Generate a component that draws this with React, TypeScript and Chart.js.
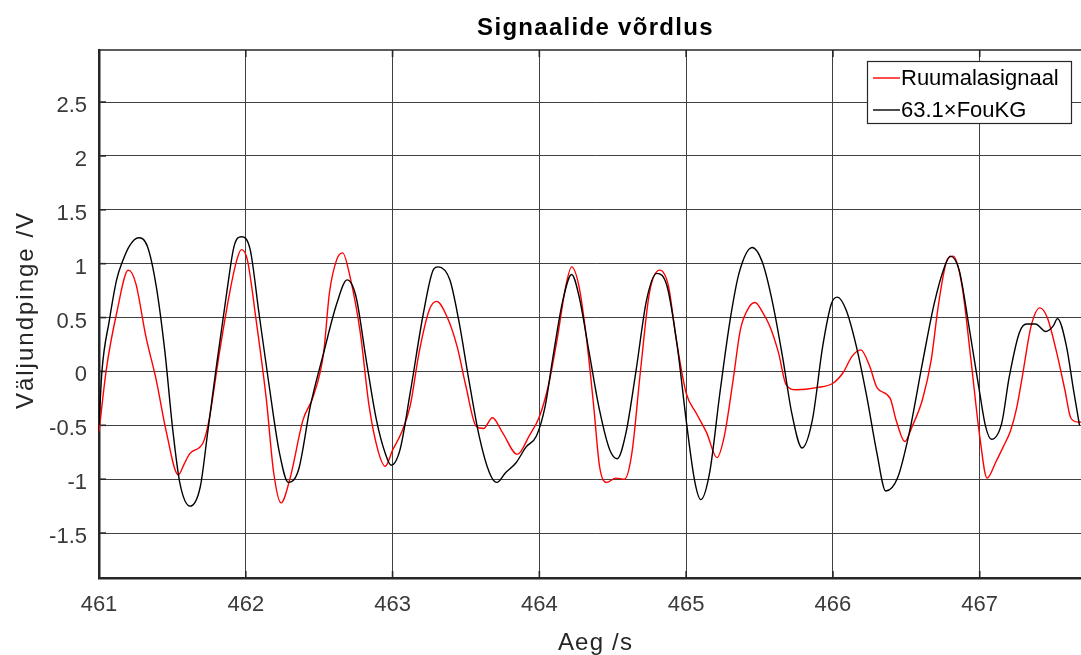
import { useEffect, useRef } from "react";
import { Chart, registerables } from "chart.js";

Chart.register(...registerables);

const TITLE = "Signaalide võrdlus";
const X_LABEL = "Aeg /s";
const Y_LABEL = "Väljundpinge /V";

const X_TICKS = [461, 462, 463, 464, 465, 466, 467];
const Y_TICKS = [-1.5, -1, -0.5, 0, 0.5, 1, 1.5, 2, 2.5];
const X_MIN = 461;
const X_MAX = 467.765;
const Y_MIN = -1.917;
const Y_MAX = 2.983;

const RED_LABEL = "Ruumalasignaal";
const BLACK_LABEL = "63.1×FouKG";

const redT = [
  461.0, 461.05, 461.12, 461.2, 461.25, 461.32, 461.39, 461.46, 461.54, 461.58,
  461.62, 461.71, 461.75, 461.82, 461.89, 461.94, 461.97, 462.01, 462.07, 462.14,
  462.19, 462.24, 462.3, 462.39, 462.46, 462.53, 462.57, 462.62, 462.66, 462.71,
  462.78, 462.84, 462.9, 462.95, 463.0, 463.06, 463.12, 463.18, 463.25, 463.3,
  463.37, 463.44, 463.5, 463.57, 463.62, 463.68, 463.75, 463.85, 463.93, 464.0,
  464.06, 464.12, 464.18, 464.22, 464.27, 464.32, 464.37, 464.41, 464.46, 464.52,
  464.58, 464.63, 464.69, 464.75, 464.82, 464.88, 464.93, 465.0, 465.07, 465.14,
  465.21, 465.26, 465.32, 465.37, 465.43, 465.47, 465.52, 465.57, 465.63, 465.68,
  465.75, 465.89, 466.0, 466.07, 466.13, 466.19, 466.25, 466.3, 466.39, 466.43,
  466.49, 466.54, 466.61, 466.67, 466.72, 466.78, 466.82, 466.88, 466.94, 467.0,
  467.05, 467.11, 467.16, 467.21, 467.25, 467.29, 467.35, 467.41, 467.46, 467.52,
  467.58, 467.62, 467.67, 467.7,
];
const redV = [
  -0.56, 0.02, 0.54, 0.94, 0.82, 0.32, -0.08, -0.57, -0.96, -0.86,
  -0.76, -0.66, -0.45, 0.17, 0.73, 1.04, 1.13, 1.04, 0.48, -0.26,
  -0.94, -1.22, -1.0, -0.45, -0.23, 0.17, 0.73, 1.04, 1.1, 0.88,
  0.36, -0.32, -0.73, -0.88, -0.73, -0.57, -0.32, 0.17, 0.57, 0.65,
  0.51, 0.23, -0.14, -0.51, -0.53, -0.43, -0.57, -0.77, -0.6, -0.42,
  -0.14, 0.29, 0.79, 0.97, 0.79, 0.32, -0.32, -0.88, -1.03, -0.99,
  -1.0, -0.76, 0.02, 0.73, 0.94, 0.79, 0.32, -0.2, -0.39, -0.57,
  -0.8, -0.6, -0.08, 0.39, 0.6, 0.64, 0.55, 0.42, 0.17, -0.12,
  -0.17, -0.15, -0.11, -0.01, 0.14, 0.2, 0.05, -0.15, -0.25, -0.45,
  -0.65, -0.51, -0.26, 0.11, 0.63, 1.04, 1.07, 0.79, 0.11, -0.6,
  -0.99, -0.84, -0.7, -0.55, -0.35, -0.05, 0.42, 0.59, 0.5, 0.2,
  -0.17, -0.43, -0.47, -0.47,
];

const blackT = [
  461.0, 461.02, 461.07, 461.12, 461.16, 461.21, 461.27, 461.33, 461.39, 461.45,
  461.5, 461.55, 461.62, 461.69, 461.74, 461.8, 461.87, 461.92, 461.97, 462.03,
  462.09, 462.16, 462.23, 462.29, 462.36, 462.44, 462.53, 462.62, 462.69, 462.75,
  462.82, 462.89, 462.95, 462.99, 463.05, 463.12, 463.21, 463.28, 463.31, 463.39,
  463.45, 463.52, 463.59, 463.66, 463.71, 463.77, 463.84, 463.91, 463.98, 464.04,
  464.09, 464.16, 464.22, 464.27, 464.34, 464.41, 464.48, 464.53, 464.59, 464.66,
  464.73, 464.8, 464.87, 464.94, 465.0, 465.06, 465.1, 465.16, 465.23, 465.3,
  465.36, 465.45, 465.52, 465.59, 465.66, 465.72, 465.79, 465.86, 465.93, 465.99,
  466.03, 466.09, 466.16, 466.23, 466.3, 466.36, 466.44, 466.52, 466.61, 466.69,
  466.76, 466.8, 466.86, 466.93, 467.0, 467.04, 467.08, 467.15, 467.2, 467.27,
  467.32, 467.38, 467.45, 467.5, 467.53, 467.59, 467.64, 467.68,
];
const blackV = [
  -0.5, 0.0, 0.47, 0.85, 1.02, 1.17, 1.24, 1.16, 0.79, 0.17,
  -0.51, -1.03, -1.25, -1.07, -0.57, 0.05, 0.73, 1.16, 1.25, 1.13,
  0.54, -0.14, -0.76, -1.03, -0.91, -0.32, 0.17, 0.63, 0.85, 0.7,
  0.11, -0.45, -0.76, -0.87, -0.73, -0.2, 0.54, 0.95, 0.97, 0.85,
  0.48, -0.08, -0.6, -0.94, -1.03, -0.94, -0.85, -0.7, -0.6, -0.32,
  0.11, 0.66, 0.9, 0.7, 0.17, -0.36, -0.73, -0.81, -0.57, 0.02,
  0.66, 0.91, 0.79, 0.23, -0.45, -1.03, -1.19, -0.94, -0.2, 0.48,
  0.91, 1.15, 1.01, 0.63, 0.11, -0.39, -0.71, -0.45, 0.23, 0.63,
  0.69, 0.57, 0.23, -0.23, -0.76, -1.11, -0.99, -0.57, 0.08, 0.63,
  0.97, 1.07, 0.94, 0.39, -0.2, -0.51, -0.63, -0.48, -0.06, 0.36,
  0.44, 0.44, 0.37, 0.42, 0.49, 0.24, -0.18, -0.5,
];

const FONT = "'Liberation Sans', Arial, Helvetica, sans-serif";
const AXIS_COLOR = "#262626";

const decorPlugin = {
  id: "matlabDecor",
  beforeDatasetsDraw(chart: any) {
    const { ctx, chartArea } = chart;
    const xs = chart.scales.x;
    const ys = chart.scales.y;
    ctx.save();
    ctx.strokeStyle = AXIS_COLOR;
    ctx.lineWidth = 1.6;
    ctx.beginPath();
    ctx.moveTo(chartArea.left, chartArea.top);
    ctx.lineTo(chartArea.right, chartArea.top);
    ctx.stroke();
    ctx.lineWidth = 1.6;
    const tl = 7;
    X_TICKS.forEach((v) => {
      const px = xs.getPixelForValue(v);
      ctx.beginPath();
      ctx.moveTo(px, chartArea.bottom);
      ctx.lineTo(px, chartArea.bottom - tl);
      ctx.moveTo(px, chartArea.top);
      ctx.lineTo(px, chartArea.top + tl);
      ctx.stroke();
    });
    Y_TICKS.forEach((v) => {
      const py = ys.getPixelForValue(v);
      ctx.beginPath();
      ctx.moveTo(chartArea.left, py);
      ctx.lineTo(chartArea.left + tl, py);
      ctx.stroke();
    });
    ctx.restore();
  },
  afterDraw(chart: any) {
    const { ctx, chartArea } = chart;
    const cx = (chartArea.left + chartArea.right) / 2;
    ctx.save();
    // title
    ctx.fillStyle = "#000000";
    ctx.textAlign = "center";
    ctx.textBaseline = "alphabetic";
    ctx.font = `bold 24px ${FONT}`;
    (ctx as any).letterSpacing = "1.3px";
    ctx.fillText(TITLE, cx, 35);
    // x label
    ctx.fillStyle = AXIS_COLOR;
    ctx.font = `24px ${FONT}`;
    (ctx as any).letterSpacing = "1.2px";
    ctx.fillText(X_LABEL, cx, 650);
    // y label
    ctx.save();
    ctx.translate(33, (chartArea.top + chartArea.bottom) / 2 - 4);
    ctx.rotate(-Math.PI / 2);
    (ctx as any).letterSpacing = "2px";
    ctx.fillText(Y_LABEL, 0, 0);
    ctx.restore();
    (ctx as any).letterSpacing = "0px";

    // legend
    const x0 = chartArea.right - 225;
    const y0 = chartArea.top + 11;
    const w = 204;
    const h = 62;
    ctx.fillStyle = "#ffffff";
    ctx.fillRect(x0, y0, w, h);
    ctx.strokeStyle = AXIS_COLOR;
    ctx.lineWidth = 1.2;
    ctx.strokeRect(x0 + 0.5, y0 + 0.5, w, h);
    const ds = chart.data.datasets;
    const rows = [y0 + 17, y0 + 49];
    ds.forEach((d: any, i: number) => {
      const ry = rows[i];
      ctx.strokeStyle = d.borderColor;
      ctx.lineWidth = 1.4;
      ctx.beginPath();
      ctx.moveTo(x0 + 6, ry);
      ctx.lineTo(x0 + 33, ry);
      ctx.stroke();
      ctx.fillStyle = "#000000";
      ctx.font = `22px ${FONT}`;
      ctx.textAlign = "left";
      ctx.textBaseline = "middle";
      ctx.fillText(d.label, x0 + 34, ry + 1);
    });
    ctx.restore();
  },
};

export default function App() {
  const ref = useRef<HTMLCanvasElement | null>(null);

  useEffect(() => {
    if (!ref.current) return;
    const red = redT.map((t, i) => ({ x: t, y: redV[i] }));
    const black = blackT.map((t, i) => ({ x: t, y: blackV[i] }));
    const chart = new Chart(ref.current, {
      type: "line",
      data: {
        datasets: [
          {
            label: RED_LABEL,
            data: red,
            borderColor: "#ff0000",
            borderWidth: 1.4,
            pointRadius: 0,
            fill: false,
            cubicInterpolationMode: "monotone",
            order: 1,
          },
          {
            label: BLACK_LABEL,
            data: black,
            borderColor: "#000000",
            borderWidth: 1.4,
            pointRadius: 0,
            fill: false,
            cubicInterpolationMode: "monotone",
            order: 0,
          },
        ],
      },
      options: {
        responsive: false,
        animation: false,
        devicePixelRatio: 1,
        parsing: false,
        layout: { padding: { top: 50, left: 0, right: 0, bottom: 0 } },
        plugins: {
          legend: { display: false },
          title: { display: false },
          tooltip: { enabled: false },
        },
        scales: {
          x: {
            type: "linear",
            min: X_MIN,
            max: X_MAX,
            afterBuildTicks: (s: any) => {
              s.ticks = X_TICKS.map((v) => ({ value: v }));
            },
            afterFit: (s: any) => {
              s.height = 77;
            },
            grid: { color: "#404040", lineWidth: 1, drawTicks: false },
            border: { color: AXIS_COLOR, width: 2.5 },
            ticks: {
              font: { family: FONT, size: 22 },
              color: "#3a3a3a",
              padding: 14,
              maxRotation: 0,
              autoSkip: false,
              callback: (v: any) => String(v),
            },
          },
          y: {
            type: "linear",
            min: Y_MIN,
            max: Y_MAX,
            afterBuildTicks: (s: any) => {
              s.ticks = Y_TICKS.map((v) => ({ value: v }));
            },
            afterFit: (s: any) => {
              s.width = 99;
            },
            grid: { color: "#404040", lineWidth: 1, drawTicks: false },
            border: { color: AXIS_COLOR, width: 2.5 },
            ticks: {
              font: { family: FONT, size: 22 },
              color: "#3a3a3a",
              padding: 12,
              labelOffset: 4,
              autoSkip: false,
              callback: (v: any) => String(v),
            },
          },
        },
      },
      plugins: [decorPlugin],
    } as any);
    return () => chart.destroy();
  }, []);

  return (
    <div
      style={{
        position: "absolute",
        left: 0,
        top: 0,
        width: 1081,
        height: 655,
        overflow: "hidden",
        background: "#ffffff",
      }}
    >
      <canvas
        ref={ref}
        width={1092}
        height={655}
        style={{ display: "block", width: 1092, height: 655 }}
      />
    </div>
  );
}
